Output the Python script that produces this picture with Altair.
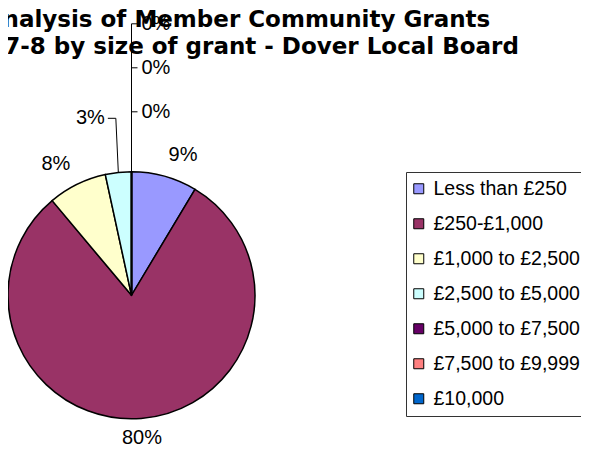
import altair as alt
import pandas as pd

# ---- data ----
categories = ["Less than £250", "£250-£1,000", "£1,000 to £2,500", "£2,500 to £5,000",
              "£5,000 to £7,500", "£7,500 to £9,999", "£10,000"]
shares = [0.086, 0.803, 0.077, 0.034, 0.0, 0.0, 0.0]
colors = ["#9999FF", "#993366", "#FFFFCC", "#CCFFFF", "#660066", "#FF8080", "#0066CC"]
title_lines = ["Analysis of Member Community Grants",
               "2007-8 by size of grant - Dover Local Board"]

df = pd.DataFrame({"category": categories, "share": shares,
                   "idx": list(range(len(categories)))})

# ---- layout constants ----
CX, CY, R = 123.5, 287.3, 123.5
R_LABEL, R_BOTTOM = 139, 133
LABEL_FONT = "Liberation Sans"

base = alt.Chart(df)

pie = base.mark_arc(outerRadius=R, stroke="black", strokeWidth=1.5).encode(
    theta=alt.Theta("share:Q", stack=True),
    color=alt.Color(
        "category:N",
        scale=alt.Scale(domain=categories, range=colors),
        legend=alt.Legend(
            title=None, orient="none", legendX=398, legendY=164, direction="vertical",
            symbolType="square", symbolSize=100, symbolStrokeColor="black",
            symbolStrokeWidth=1, symbolOpacity=1, symbolOffset=-4,
            labelFont=LABEL_FONT, labelFontSize=19.5, labelColor="black", labelLimit=400,
            labelOffset=5, rowPadding=14, padding=7,
            strokeColor="#333333", fillColor="white",
        ),
    ),
    order=alt.Order("idx:Q"),
    x=alt.value(CX),
    y=alt.value(CY),
)

geo = base.transform_window(
    cum="sum(share)", sort=[{"field": "idx"}], frame=[None, 0]
).transform_calculate(
    mid="2*PI*(datum.cum - datum.share/2)",
    pct="format(datum.share, '.0%')",
)

# main (outside-end) labels
main = geo.transform_filter("datum.share >= 0.05").transform_calculate(
    lr=f"cos(datum.mid) < 0 ? {R_BOTTOM} : {R_LABEL}"
).transform_calculate(
    lx=f"{CX} + datum.lr*sin(datum.mid)",
    ly=f"{CY} - datum.lr*cos(datum.mid)",
)


def txt(src, cond, align, baseline):
    return src.transform_filter(cond).mark_text(
        align=align, baseline=baseline, font=LABEL_FONT, fontSize=20, color="black"
    ).encode(
        x=alt.X("lx:Q", scale=None, axis=None),
        y=alt.Y("ly:Q", scale=None, axis=None),
        text="pct:N",
    )


lab_ur = txt(main, "cos(datum.mid) >= 0 && sin(datum.mid) >= 0", "left", "alphabetic")
lab_ul = txt(main, "cos(datum.mid) >= 0 && sin(datum.mid) < 0", "right", "alphabetic")
lab_b = txt(main, "cos(datum.mid) < 0", "center", "top")

# small non-zero slice: callout with leader line to the left
small = geo.transform_filter("datum.share > 0 && datum.share < 0.05").transform_calculate(
    ex=f"{CX} + {R}*sin(datum.mid)",
    ey=f"{CY} - {R}*cos(datum.mid)",
    ly=f"{CY} - {R + 53.5}",
).transform_calculate(
    bx="datum.ex - 2.5"
).transform_calculate(
    hx="datum.bx - 8", lx="datum.bx - 11"
)


def seg(src, x1, y1, x2, y2):
    return src.mark_rule(color="black", strokeWidth=1).encode(
        x=alt.X(f"{x1}:Q", scale=None, axis=None),
        y=alt.Y(f"{y1}:Q", scale=None, axis=None),
        x2=f"{x2}:Q",
        y2=f"{y2}:Q",
    )


small_l1 = seg(small, "ex", "ey", "bx", "ly")
small_l2 = seg(small, "bx", "ly", "hx", "ly")
small_t = small.mark_text(align="right", baseline="middle", font=LABEL_FONT,
                          fontSize=20, color="black").encode(
    x=alt.X("lx:Q", scale=None, axis=None),
    y=alt.Y("ly:Q", scale=None, axis=None),
    text="pct:N",
)

# zero slices: stacked labels above the pie with a vertical leader
zero = geo.transform_filter("datum.share == 0").transform_window(
    zr="row_number()", sort=[{"field": "idx"}]
).transform_calculate(
    ex=f"{CX} + {R}*sin(datum.mid)",
    ey=f"{CY} - {R}*cos(datum.mid)",
    ly=f"{CY} - ({R} + 60 + 44*(datum.zr - 1))",
).transform_calculate(
    kx="datum.ex + 6", lx="datum.ex + 10"
)
zero_v = seg(zero, "ex", "ey", "ex", "ly")
zero_k = seg(zero, "ex", "ly", "kx", "ly")
zero_t = zero.mark_text(align="left", baseline="middle", font=LABEL_FONT,
                        fontSize=20, color="black").encode(
    x=alt.X("lx:Q", scale=None, axis=None),
    y=alt.Y("ly:Q", scale=None, axis=None),
    text="pct:N",
)

title = alt.Chart(pd.DataFrame({"k": [0]})).mark_text(
    text=title_lines, font="DejaVu Sans", fontWeight="bold", fontSize=23,
    lineHeight=27, align="center", baseline="alphabetic", color="black",
).encode(x=alt.value(229.5), y=alt.value(19))

chart = alt.layer(
    pie, small_l1, small_l2, zero_v, zero_k,
    lab_ur, lab_ul, lab_b, small_t, zero_t, title,
).properties(
    width=573, height=438, padding=0,
    autosize=alt.AutoSizeParams(type="none"),
).configure_view(stroke=None)

chart.save("out.html", embed_options={"renderer": "svg", "actions": False})
